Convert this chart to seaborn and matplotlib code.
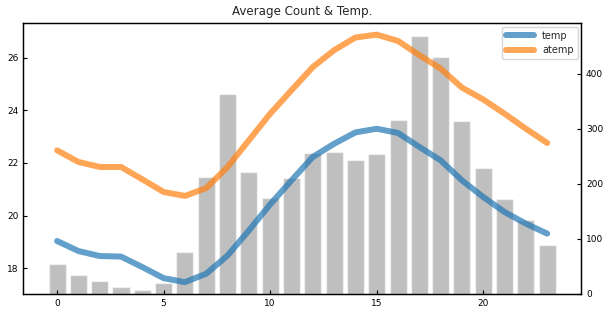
import matplotlib
matplotlib.use("Agg")
import matplotlib.pyplot as plt
import seaborn as sns
import pandas as pd

hours = list(range(24))
count = [55.1, 33.9, 22.9, 11.8, 6.4, 19.8, 76.3, 213.1, 362.8, 221.8, 175.1, 210.7,
         256.5, 257.8, 243.4, 254.3, 316.4, 468.8, 430.9, 315.3, 228.5, 173.4, 133.6, 89.5]
temp = [19.04, 18.66, 18.47, 18.45, 18.05, 17.63, 17.48, 17.80, 18.49, 19.44, 20.43, 21.34,
        22.23, 22.73, 23.16, 23.30, 23.14, 22.61, 22.10, 21.34, 20.71, 20.14, 19.70, 19.32]
atemp = [22.48, 22.04, 21.85, 21.85, 21.38, 20.90, 20.75, 21.05, 21.85, 22.86, 23.87, 24.76,
         25.64, 26.28, 26.76, 26.87, 26.63, 26.09, 25.58, 24.86, 24.41, 23.87, 23.30, 22.76]

sns.set_style("white")
plt.rcParams['font.family'] = ['DejaVu Sans']
plt.rcParams['xtick.direction'] = 'in'
plt.rcParams['ytick.direction'] = 'in'

df = pd.DataFrame({"hour": hours, "count": count, "temp": temp, "atemp": atemp})

fig = plt.figure(figsize=(6.11, 3.15), dpi=100)
ax = fig.add_axes([0.038, 0.0667, 0.913, 0.8593])
ax2 = ax.twinx()

sns.barplot(data=df, x="hour", y="count", ax=ax2, color="gray", alpha=0.5,
            native_scale=True, width=0.8, saturation=1)
sns.lineplot(data=df, x="hour", y="temp", ax=ax, color="#1f77b4", alpha=0.7, lw=4.3, label="temp")
sns.lineplot(data=df, x="hour", y="atemp", ax=ax, color="#ff7f0e", alpha=0.7, lw=4.3, label="atemp")

ax.set_zorder(ax2.get_zorder() + 1)
ax.patch.set_visible(False)

ax.set_xlim(-1.59, 24.59)
ax.set_ylim(17.03, 27.3)
ax2.set_ylim(0, 492)
ax.set_xticks([0, 5, 10, 15, 20])
ax.set_yticks([18, 20, 22, 24, 26])
ax2.set_yticks([0, 100, 200, 300, 400])
ax.set_xlabel("")
ax.set_ylabel("")
ax2.set_ylabel("")
ax2.set_xlabel("")

for a in (ax, ax2):
    a.tick_params(labelsize=6.5, length=3, width=0.8, colors="black")
    for s in a.spines.values():
        s.set_color("black")
        s.set_linewidth(0.9)
ax.tick_params(axis='x', bottom=True)
ax.tick_params(axis='y', left=True, right=False)
ax2.tick_params(axis='y', right=True, left=False)

ax.set_title("Average Count & Temp.", fontsize=8.6)
ax.legend(loc="upper right", fontsize=7, handlelength=2.9, borderaxespad=0.35)

fig.savefig("out.png", dpi=100)
